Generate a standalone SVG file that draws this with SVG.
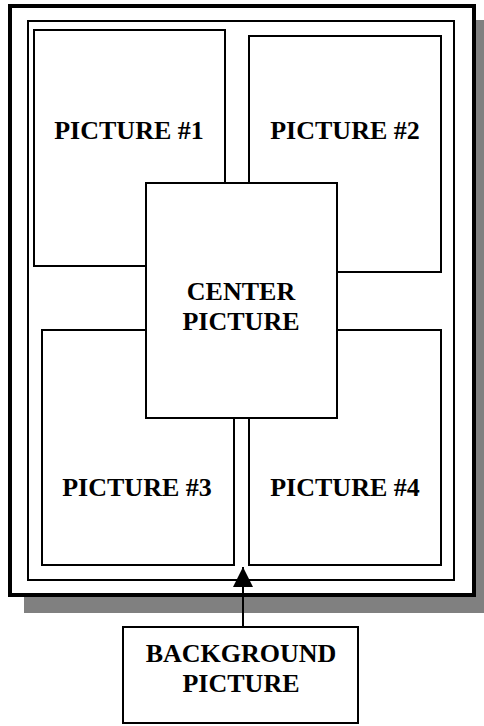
<svg xmlns="http://www.w3.org/2000/svg" width="484" height="726" viewBox="0 0 484 726">
<defs>
<style>
.box{fill:#fff;stroke:#000;stroke-width:2}
.lbl{font-family:"Liberation Serif","Times New Roman",serif;font-weight:bold;font-size:26px;text-anchor:middle;fill:#000}
</style>
<marker id="arr" viewBox="0 0 20 20" refX="20" refY="10" markerWidth="20" markerHeight="20" markerUnits="userSpaceOnUse" orient="auto">
<path d="M0,0 L20,10 L0,20 Z" fill="#000"/>
</marker>
</defs>
<g id="page">
<rect x="24" y="20" width="460" height="593" fill="#808080"/>
<rect x="10" y="6" width="464" height="589" fill="#fff" stroke="#000" stroke-width="4"/>
<rect x="28" y="21" width="426" height="559" fill="none" stroke="#000" stroke-width="2"/>
</g>
<g id="pic1"><rect class="box" x="34" y="30" width="191" height="236"/><text class="lbl" x="129" y="139">PICTURE #1</text></g>
<g id="pic2"><rect class="box" x="249" y="36" width="192" height="236"/><text class="lbl" x="345" y="139">PICTURE #2</text></g>
<g id="pic3"><rect class="box" x="42" y="330" width="192" height="235"/><text class="lbl" x="137" y="496">PICTURE #3</text></g>
<g id="pic4"><rect class="box" x="249" y="330" width="192" height="235"/><text class="lbl" x="345" y="496">PICTURE #4</text></g>
<g id="center"><rect class="box" x="146" y="183" width="191" height="235"/><text class="lbl" x="241" y="300">CENTER</text><text class="lbl" x="241" y="330">PICTURE</text></g>
<g id="background"><rect class="box" x="123" y="627" width="235" height="96"/><text class="lbl" x="241" y="662">BACKGROUND</text><text class="lbl" x="241" y="692">PICTURE</text></g>
<g id="connectors">
<line x1="243" y1="627" x2="243" y2="567" stroke="#000" stroke-width="2" marker-end="url(#arr)"/>
</g>
</svg>
